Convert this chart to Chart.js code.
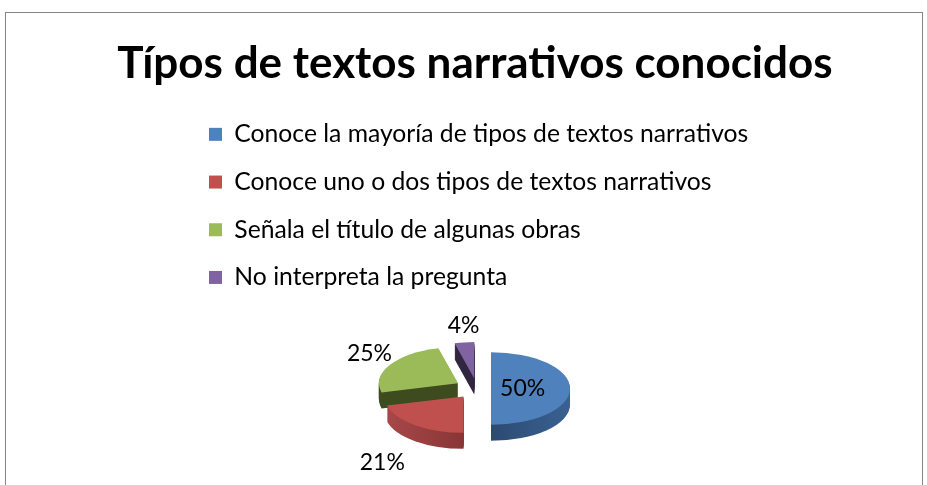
<!DOCTYPE html>
<html>
<head>
<meta charset="utf-8">
<script src="https://cdn.jsdelivr.net/npm/chart.js@4"></script>
<style>
  html, body { margin: 0; padding: 0; background: #fff; }
</style>
</head>
<body>
<canvas id="pieChart" width="927" height="485"></canvas>
<script>
const titleText = 'Típos de textos narrativos conocidos';
const categories = [
    'Conoce la mayoría de tipos de textos narrativos',
    'Conoce uno o dos tipos de textos narrativos',
    'Señala el título de algunas obras',
    'No interpreta la pregunta'
];
const percentages = [50, 21, 25, 4];
const sliceColors = ['#4F81BD', '#C0504D', '#9BBB59', '#8064A2'];
// side walls: [left colour, right colour]
const sideColors = [['#1E3452', '#3A6192'], ['#A8484A', '#6A2321'], ['#3D4B1F', '#3D4B1F'], ['#30263F', '#30263F']];
const explode = [14, 22, 22, 22];

// fake 3d: squash the pie and stack darker copies under it
const TILT = 0.46;
const DEPTH = 16;

const framePlugin = {
    id: 'frame',
    beforeDraw(chart) {
        const ctx = chart.ctx;
        ctx.save();
        ctx.strokeStyle = '#868686';
        ctx.lineWidth = 1;
        ctx.strokeRect(5.5, 12.5, 917, 500);
        // title drawn here so it is not squeezed into the padded box
        ctx.font = 'bold 44px Lato';
        ctx.fillStyle = '#000';
        ctx.textAlign = 'center';
        ctx.textBaseline = 'alphabetic';
        ctx.fillText(titleText, 475, 78);
        ctx.restore();
    }
};

function tilted(ctx, el, i, d) {
    const mid = (el.startAngle + el.endAngle) / 2;
    ctx.translate(el.x, el.y + d);
    ctx.scale(1, TILT);
    ctx.translate(-el.x, -el.y);
    ctx.translate(Math.cos(mid) * explode[i], Math.sin(mid) * explode[i]);
}

const tiltPlugin = {
    id: 'tilt',
    beforeDatasetsDraw(chart) {
        const ctx = chart.ctx;
        const meta = chart.getDatasetMeta(0);
        meta.data.forEach((el, i) => {
            const r = el.outerRadius;
            const side = Object.create(el);
            for (let d = DEPTH; d > 0; d--) {
                ctx.save();
                tilted(ctx, el, i, d);
                const grad = ctx.createLinearGradient(el.x - r, 0, el.x + r, 0);
                grad.addColorStop(0, sideColors[i][0]);
                grad.addColorStop(1, sideColors[i][1]);
                side.options = Object.assign({}, el.options, {backgroundColor: grad, borderWidth: 0});
                el.draw.call(side, ctx);
                ctx.restore();
            }
        });
        meta.data.forEach((el, i) => {
            ctx.save();
            tilted(ctx, el, i, 0);
            el.draw(ctx);
            ctx.restore();
        });
        return false;
    }
};

const labelPlugin = {
    id: 'sliceLabels',
    afterDraw(chart) {
        const ctx = chart.ctx;
        const meta = chart.getDatasetMeta(0);
        ctx.save();
        ctx.font = '23px Lato';
        ctx.fillStyle = '#000';
        ctx.textAlign = 'center';
        ctx.textBaseline = 'middle';
        meta.data.forEach((el, i) => {
            const mid = (el.startAngle + el.endAngle) / 2;
            const cos = Math.cos(mid), sin = Math.sin(mid);
            const txt = percentages[i] + '%';
            const r = el.outerRadius;
            let x, y;
            if (percentages[i] >= 40) {
                const d = r * 0.4 + explode[i];
                x = el.x + cos * d;
                y = el.y + sin * d * TILT;
            } else {
                // front labels sit further out (perspective)
                const w = ctx.measureText(txt).width / 2;
                const R = (r + 35) * (1 + 0.2 * sin);
                x = el.x + cos * (R + w);
                y = el.y + sin * R * TILT + (sin > 0 ? DEPTH - 6 : 0) + sin * 21;
            }
            ctx.fillText(txt, x, y);
        });
        ctx.restore();
    }
};

const ctx1 = document.getElementById('pieChart').getContext('2d');
const pieChart = new Chart(ctx1, {
    type: 'pie',
    data: {
        labels: categories,
        datasets: [{
            data: percentages,
            backgroundColor: sliceColors,
            borderWidth: 0,
            radius: 79
        }]
    },
    options: {
        responsive: false,
        animation: false,
        events: [],
        layout: {padding: {top: 99, left: 186, right: 159, bottom: 0}},
        plugins: {
            title: {display: false},
            legend: {
                position: 'top',
                align: 'start',
                labels: {
                    color: '#000',
                    font: {family: 'Lato', size: 24.7},
                    boxWidth: 13,
                    boxHeight: 13,
                    padding: 23
                }
            },
            tooltip: {enabled: false}
        }
    },
    plugins: [framePlugin, tiltPlugin, labelPlugin]
});
</script>
</body>
</html>
